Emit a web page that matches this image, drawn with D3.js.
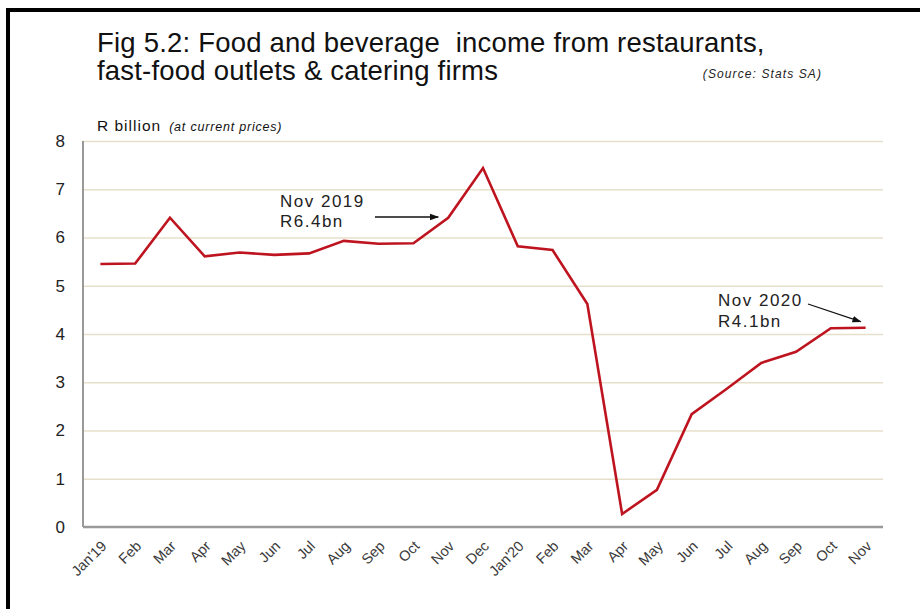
<!DOCTYPE html>
<html>
<head>
<meta charset="utf-8">
<script src="https://cdn.jsdelivr.net/npm/d3@7"></script>
<style>
  html, body { margin: 0; padding: 0; background: #fff; }
  svg { display: block; font-family: "Liberation Sans", Arial, sans-serif; }
</style>
</head>
<body>
<svg id="chart" width="920" height="609"></svg>
<script>
// Monthly food & beverage income, R billion at current prices
const months = ["Jan'19", "Feb", "Mar", "Apr", "May", "Jun", "Jul", "Aug", "Sep", "Oct", "Nov", "Dec",
                "Jan'20", "Feb", "Mar", "Apr", "May", "Jun", "Jul", "Aug", "Sep", "Oct", "Nov"];
const income = [5.45, 5.46, 6.41, 5.61, 5.69, 5.64, 5.67, 5.93, 5.87, 5.88, 6.41, 7.44,
                5.82, 5.74, 4.62, 0.27, 0.77, 2.34, 2.86, 3.40, 3.63, 4.12, 4.13];
const yTicks = [0, 1, 2, 3, 4, 5, 6, 7, 8];
const titleLines = ["Fig 5.2: Food and beverage  income from restaurants,",
                    "fast-food outlets & catering firms"];
const callouts = [
  { index: 10, lines: ["Nov 2019", "R6.4bn"] },
  { index: 22, lines: ["Nov 2020", "R4.1bn"] }
];

const svg = d3.select("#chart");
const plot = { left: 83, right: 883, top: 141, bottom: 527 };

const keys = months.map((m, i) => i);
const x = d3.scaleBand().domain(keys).range([plot.left, plot.right]);
const y = d3.scaleLinear().domain([0, 8]).range([plot.bottom, plot.top]);
const cx = i => x(i) + x.bandwidth() / 2;

// Frame edges
svg.append("rect").attr("x", 6).attr("y", 8).attr("width", 914).attr("height", 4).attr("fill", "#000");
svg.append("rect").attr("x", 6).attr("y", 8).attr("width", 4).attr("height", 601).attr("fill", "#000");

// Title
const title = svg.append("g").attr("fill", "#111").attr("font-size", 27.5).attr("letter-spacing", 0.2);
titleLines.forEach((t, i) => {
  title.append("text").attr("x", 97).attr("y", 52 + i * 28).attr("xml:space", "preserve").text(t);
});
svg.append("text").attr("x", 822).attr("y", 78).attr("text-anchor", "end")
  .attr("font-size", 12).attr("letter-spacing", 1.1).attr("font-style", "italic").attr("fill", "#222")
  .text("(Source: Stats SA)");

// Unit label
const unit = svg.append("text").attr("x", 97).attr("y", 131).attr("fill", "#111");
unit.append("tspan").attr("font-size", 15.5).attr("letter-spacing", 1).text("R billion");
unit.append("tspan").attr("font-size", 12.5).attr("letter-spacing", 0.8).attr("font-style", "italic")
  .attr("dx", 8).text("(at current prices)");

// Horizontal gridlines
svg.append("g").call(
  d3.axisLeft(y).tickValues(yTicks.filter(v => v > 0)).tickSize(-(plot.right - plot.left)).tickFormat("")
).attr("transform", `translate(${plot.left},0)`)
 .call(g => g.select(".domain").remove())
 .call(g => g.selectAll(".tick line").attr("stroke", "#e6dfc9").attr("stroke-width", 1.6));

// Y axis labels
svg.append("g").attr("transform", `translate(${plot.left},0)`)
  .call(d3.axisLeft(y).tickValues(yTicks).tickSize(0).tickPadding(18).tickFormat(d3.format("d")))
  .call(g => g.select(".domain").remove())
  .call(g => g.selectAll(".tick text").attr("font-size", 17).attr("fill", "#222")
               .attr("font-family", "'Liberation Sans', Arial, sans-serif"));

// Axis lines
svg.append("line").attr("x1", plot.left).attr("x2", plot.left).attr("y1", plot.top).attr("y2", plot.bottom)
  .attr("stroke", "#999").attr("stroke-width", 2);
svg.append("line").attr("x1", plot.left).attr("x2", plot.right).attr("y1", plot.bottom).attr("y2", plot.bottom)
  .attr("stroke", "#999").attr("stroke-width", 2.5);

// X axis labels, rotated
svg.append("g").attr("transform", `translate(0,${plot.bottom})`)
  .call(d3.axisBottom(x).tickSize(0).tickFormat(i => months[i]))
  .call(g => g.select(".domain").remove())
  .call(g => g.selectAll(".tick text")
    .attr("font-size", 14.5).attr("fill", "#3a3a3a")
    .attr("font-family", "'Liberation Sans', Arial, sans-serif")
    .attr("text-anchor", "end").attr("dy", null).attr("y", 0)
    .attr("transform", "translate(7,20) rotate(-45)"));

// Income line
svg.append("path").datum(income)
  .attr("fill", "none").attr("stroke", "#be1420").attr("stroke-width", 2.6)
  .attr("stroke-linejoin", "miter")
  .attr("d", d3.line().x((d, i) => cx(i)).y(d => y(d)));

// Callouts
svg.append("defs").append("marker").attr("id", "arrow")
  .attr("viewBox", "0 0 10 10").attr("refX", 9).attr("refY", 5)
  .attr("markerWidth", 7).attr("markerHeight", 7).attr("orient", "auto")
  .append("path").attr("d", "M0,1.5 L10,5 L0,8.5 Z").attr("fill", "#111");

const c0 = callouts[0], c1 = callouts[1];
const ann = svg.append("g").attr("font-size", 17).attr("letter-spacing", 1.5).attr("fill", "#222");
c0.lines.forEach((t, i) => ann.append("text").attr("x", 280).attr("y", 207 + i * 20).text(t));
svg.append("line").attr("x1", 375).attr("y1", 217).attr("x2", cx(c0.index) - 10).attr("y2", 217)
  .attr("stroke", "#111").attr("stroke-width", 1.3).attr("marker-end", "url(#arrow)");

c1.lines.forEach((t, i) => ann.append("text").attr("x", 718).attr("y", 306 + i * 21).text(t));
svg.append("line").attr("x1", 808).attr("y1", 304).attr("x2", cx(c1.index) - 5).attr("y2", y(income[c1.index]) - 6)
  .attr("stroke", "#111").attr("stroke-width", 1.3).attr("marker-end", "url(#arrow)");
</script>
</body>
</html>
